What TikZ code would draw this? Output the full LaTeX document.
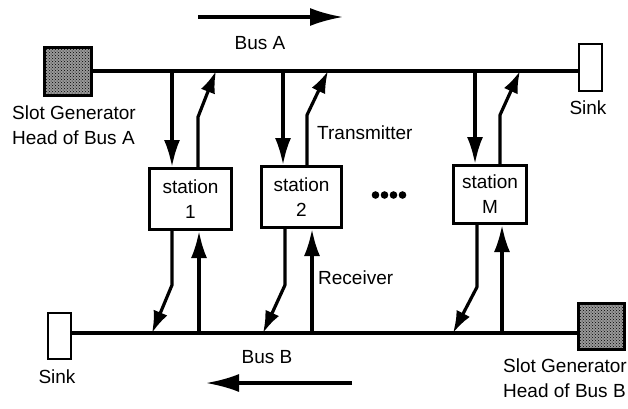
\documentclass[tikz,border=0pt]{standalone}
\usepackage{fontspec}
\setmainfont{Liberation Sans}
\usetikzlibrary{arrows.meta,patterns}
\begin{document}
\begin{tikzpicture}[x=1pt,y=-1pt,
  bus/.style={line width=4.8pt},
  conn/.style={line width=3.2pt, line join=round},
  tipbig/.style={-{Latex[length=27pt,width=16pt]}},
  tipdiag/.style={-{Latex[length=22pt,width=15pt]}},
  tipbus/.style={-{Latex[length=33pt,width=18pt]}},
  lbl/.style={font=\fontsize{19}{25}\selectfont, inner sep=0pt},
  stationbox/.style={draw, line width=3pt, fill=white, align=center, inner sep=0pt,
    font=\fontsize{19}{25}\selectfont},
  sinkbox/.style={draw, line width=2.6pt, fill=white, inner sep=0pt},
  genbox/.style={draw, line width=3pt, inner sep=0pt, preaction={fill=black!40}, pattern=crosshatch dots}
]
\useasboundingbox (0,0) rectangle (628,408);

% generators and sinks
\node[genbox, minimum width=47pt, minimum height=48pt] (genA) at (67.5,71) {};
\node[sinkbox, minimum width=23pt, minimum height=47pt] (sinkA) at (590.5,67.5) {};
\node[genbox, minimum width=46pt, minimum height=46pt] (genB) at (601,326) {};
\node[sinkbox, minimum width=23pt, minimum height=46pt] (sinkB) at (59.5,336) {};

% buses
\draw[bus] (genA.east) -- (genA.east -| sinkA.west);
\coordinate (bL) at (sinkB.east |- 0,333);
\coordinate (bR) at (genB.west |- 0,333);
\draw[bus] (bL) -- (bR);

% stations
\node[stationbox, minimum width=82pt, minimum height=61pt] (s1) at (190.5,199) {station\\1};
\node[stationbox, minimum width=80pt, minimum height=61pt] (s2) at (301.5,197) {station\\2};
\node[stationbox, minimum width=73pt, minimum height=58pt] (sM) at (490,194.5) {station\\M};

% bus tap coordinates (bus A at y=71, bus B at y=333)
\coordinate (a1d) at (172,71);  \coordinate (a1u) at (216,71);
\coordinate (a2d) at (283,71);  \coordinate (a2u) at (328,71);
\coordinate (aMd) at (475,71);  \coordinate (aMu) at (520,71);
\coordinate (b1d) at (152,333); \coordinate (b1u) at (199,333);
\coordinate (b2d) at (263,333); \coordinate (b2u) at (312,333);
\coordinate (bMd) at (453,333); \coordinate (bMu) at (502,333);

% upper connectors: receive from bus A, transmit onto bus A
\draw[conn,tipbig] (a1d) -- (a1d |- s1.north);
\draw[conn,tipdiag] (198,0 |- s1.north) -- (198,117) -- (a1u);
\draw[conn,tipbig] (a2d) -- (a2d |- s2.north);
\draw[conn,tipdiag] (307,0 |- s2.north) -- (307,115) -- (a2u);
\draw[conn,tipbig] (aMd) -- (aMd |- sM.north);
\draw[conn,tipdiag] (500,0 |- sM.north) -- (500,115) -- (aMu);

% lower connectors
\draw[conn,tipdiag] (172,0 |- s1.south) -- (172,285) -- (b1d);
\draw[conn,tipbig] (b1u) -- (b1u |- s1.south);
\draw[conn,tipdiag] (285,0 |- s2.south) -- (285,285) -- (b2d);
\draw[conn,tipbig] (b2u) -- (b2u |- s2.south);
\draw[conn,tipdiag] (477,0 |- sM.south) -- (477,287) -- (bMd);
\draw[conn,tipbig] (bMu) -- (bMu |- sM.south);

% direction arrows
\coordinate (arA1) at (198,17); \coordinate (arA2) at (343,17);
\draw[conn,tipbus] (arA1) -- (arA2);
\coordinate (arB1) at (352,383); \coordinate (arB2) at (206,383);
\draw[conn,tipbus] (arB1) -- (arB2);

% dots
\foreach \xx in {375.5,384.5,393.5,402.5} \fill (\xx,195) circle (3.8pt);

% labels
\node[lbl] (busA) at (260,43) {Bus A};
\node[lbl] (busB) at (267,357) {Bus B};
\node[lbl] (sinkAl) at (588,108) {Sink};
\node[lbl] (sinkBl) at (57,377) {Sink};
\node[lbl, align=left, anchor=west] (genAl) at (12,125.5) {Slot Generator\\Head of Bus A};
\node[lbl, align=left, anchor=west] (genBl) at (503,378.5) {Slot Generator\\Head of Bus B};
\node[lbl, anchor=west] (tx) at (317,133) {Transmitter};
\node[lbl, anchor=west] (rx) at (318,278) {Receiver};
\end{tikzpicture}
\end{document}
